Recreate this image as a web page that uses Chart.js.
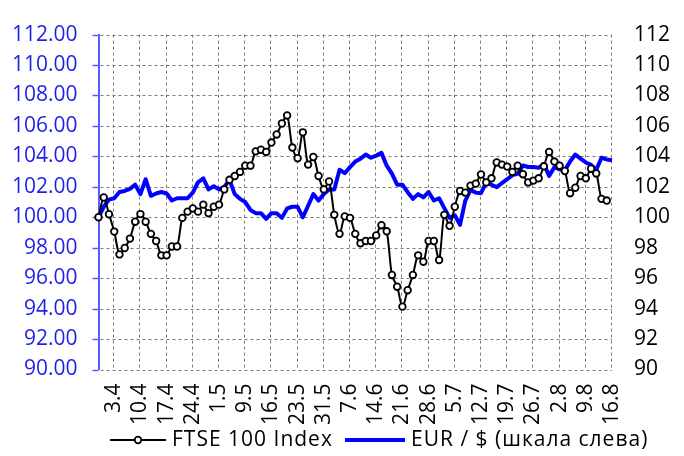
<!DOCTYPE html>
<html>
<head>
<meta charset="utf-8">
<script src="https://cdn.jsdelivr.net/npm/chart.js@4.4.1/dist/chart.umd.min.js"></script>
<style>
  body { margin: 0; background: #fff; }
  canvas { display: block; }
</style>
</head>
<body>
<canvas id="chart" width="684" height="456"></canvas>
<script>
// date labels shown every 5th trading day, starting at day 3
const tickLabels = ['3.4', '10.4', '17.4', '24.4', '1.5', '9.5', '16.5', '23.5', '31.5', '7.6',
  '14.6', '21.6', '28.6', '5.7', '12.7', '19.7', '26.7', '2.8', '9.8', '16.8'];

const ftse = [100.0, 101.3, 100.2, 99.06, 97.56, 97.98, 98.6, 99.71, 100.21, 99.71,
  98.91, 98.44, 97.5, 97.5, 98.08, 98.08, 99.96, 100.37, 100.58, 100.37,
  100.83, 100.27, 100.69, 100.83, 101.83, 102.46, 102.71, 102.98, 103.39, 103.39,
  104.33, 104.44, 104.29, 104.91, 105.44, 106.16, 106.69, 104.58, 103.88, 105.58,
  103.46, 103.96, 102.71, 101.83, 102.35, 100.16, 98.91, 100.06, 99.96, 98.91,
  98.29, 98.44, 98.44, 98.81, 99.48, 99.08, 96.21, 95.44, 94.13, 95.21,
  96.21, 97.5, 97.08, 98.44, 98.44, 97.19, 100.16, 99.44, 100.69, 101.73,
  101.62, 102.08, 102.21, 102.81, 102.29, 102.56, 103.6, 103.46, 103.33, 102.98,
  103.39, 102.83, 102.29, 102.41, 102.56, 103.35, 104.29, 103.66, 103.39, 103.04,
  101.58, 101.94, 102.71, 102.56, 103.19, 102.88, 101.21, 101.1, null];

const eurUsd = [100.0, 100.69, 101.16, 101.25, 101.66, 101.73, 101.87, 102.14, 101.52, 102.5,
  101.41, 101.56, 101.66, 101.56, 101.1, 101.25, 101.25, 101.25, 101.62, 102.3,
  102.56, 101.83, 102.04, 101.83, 102.0, 102.46, 101.52, 101.21, 101.0, 100.48,
  100.27, 100.27, 99.9, 100.27, 100.27, 99.96, 100.58, 100.69, 100.69, 100.0,
  100.76, 101.52, 101.1, 101.52, 101.83, 101.83, 103.12, 102.9, 103.29, 103.66,
  103.85, 104.12, 103.91, 104.05, 104.23, 103.39, 102.87, 102.14, 102.14, 101.65,
  101.21, 101.52, 101.31, 101.66, 101.1, 101.25, 100.6, 99.96, 100.13, 99.5,
  101.1, 101.79, 101.62, 101.58, 102.29, 102.14, 101.98, 102.25, 102.5, 102.77,
  102.85, 103.4, 103.3, 103.3, 103.25, 103.5, 102.72, 103.29, 103.15, 103.08,
  103.66, 104.12, 103.85, 103.6, 103.44, 103.12, 103.91, 103.8, 103.75];

const firstTick = 3;
const tickEvery = 5;
const categories = eurUsd.map((v, i) =>
  (i - firstTick) % tickEvery === 0 ? tickLabels[(i - firstTick) / tickEvery] : '');

const FONT = "'Open Sans', sans-serif";
const GRID = '#7a7a7a';
const BLUE = '#0000ff';
const AXIS_BLUE = '#5b5bff';

Chart.defaults.font.family = FONT;
Chart.defaults.font.size = 21;
Chart.defaults.color = '#000';

// dashed grid + left tick marks, placed from the scales
function drawGrid(chart) {
  const { ctx, chartArea: a, scales } = chart;
  const yS = scales.yLeft;
  const xS = scales.x;
  ctx.save();
  ctx.lineWidth = 1;
  ctx.strokeStyle = GRID;
  ctx.beginPath();
  yS.ticks.forEach(t => {
    const y = Math.round(yS.getPixelForValue(t.value)) + 0.5;
    for (let x = a.left + 2; x < a.right; x += 6) {
      ctx.moveTo(x, y);
      ctx.lineTo(Math.min(x + 3, a.right), y);
    }
  });
  categories.forEach((c, i) => {
    if (!c) return;
    const x = Math.round(xS.getPixelForValue(i)) - 0.5;
    for (let y = a.top; y < a.bottom; y += 6) {
      ctx.moveTo(x, y);
      ctx.lineTo(x, Math.min(y + 3, a.bottom));
    }
  });
  ctx.stroke();
  ctx.strokeStyle = AXIS_BLUE;
  ctx.lineWidth = 1.5;
  ctx.beginPath();
  yS.ticks.forEach(t => {
    const y = Math.round(yS.getPixelForValue(t.value)) + 0.5;
    ctx.moveTo(a.left - 6, y);
    ctx.lineTo(a.left, y);
  });
  ctx.stroke();
  ctx.restore();
}

const gridBefore = {
  id: 'gridBefore',
  beforeDatasetsDraw(chart) { drawGrid(chart); }
};

const legendRow = {
  id: 'legendRow',
  afterDraw(chart) {
    const ctx = chart.ctx;
    const y = 440;
    ctx.save();
    ctx.lineWidth = 2;
    ctx.strokeStyle = '#000';
    ctx.beginPath();
    ctx.moveTo(110, y);
    ctx.lineTo(166, y);
    ctx.stroke();
    ctx.beginPath();
    ctx.arc(138, y, 3.3, 0, Math.PI * 2);
    ctx.fillStyle = '#fff';
    ctx.fill();
    ctx.lineWidth = 1.8;
    ctx.stroke();
    ctx.lineWidth = 4;
    ctx.strokeStyle = BLUE;
    ctx.beginPath();
    ctx.moveTo(345, y);
    ctx.lineTo(405, y);
    ctx.stroke();
    ctx.font = '21px ' + FONT;
    ctx.letterSpacing = '1px';
    ctx.fillStyle = '#000';
    ctx.textBaseline = 'middle';
    ctx.textAlign = 'left';
    ctx.fillText('FTSE 100 Index', 172, y);
    ctx.fillText('EUR / $ (шкала слева)', 411, y);
    ctx.restore();
  }
};

new Chart(document.getElementById('chart'), {
  type: 'line',
  data: {
    labels: categories,
    datasets: [
      {
        label: 'FTSE 100 Index',
        data: ftse,
        yAxisID: 'yRight',
        borderColor: '#000',
        borderWidth: 2,
        tension: 0.3,
        pointRadius: 3.3,
        pointBorderWidth: 1.8,
        pointBackgroundColor: '#fff',
        pointBorderColor: '#000',
        clip: false
      },
      {
        label: 'EUR / $ (шкала слева)',
        data: eurUsd,
        yAxisID: 'yLeft',
        borderColor: BLUE,
        borderWidth: 4,
        tension: 0,
        pointRadius: 0,
        borderJoinStyle: 'round'
      }
    ]
  },
  options: {
    responsive: false,
    animation: false,
    layout: { padding: { top: 4, left: 0, right: 0, bottom: 0 } },
    plugins: {
      legend: { display: false },
      tooltip: { enabled: false }
    },
    scales: {
      x: {
        offset: false,
        border: { display: false },
        grid: { display: false, drawTicks: false },
        ticks: {
          autoSkip: false,
          maxRotation: 90,
          minRotation: 90,
          padding: 14,
          color: '#000'
        },
        afterFit: s => { s.height = 86.5; }
      },
      yLeft: {
        position: 'left',
        min: 90,
        max: 112,
        border: { display: true, color: AXIS_BLUE, width: 2 },
        grid: { display: false, drawTicks: false },
        ticks: {
          stepSize: 2,
          padding: 21,
          color: '#1f1fe8',
          callback: v => v.toFixed(2)
        },
        afterFit: s => { s.width = 98.5; }
      },
      yRight: {
        position: 'right',
        min: 90,
        max: 112,
        border: { display: false },
        grid: { display: false, drawTicks: false },
        ticks: {
          stepSize: 2,
          padding: 22,
          color: '#000',
          callback: v => String(v)
        },
        afterFit: s => { s.width = 72; }
      }
    }
  },
  plugins: [gridBefore, legendRow]
});
</script>
</body>
</html>
